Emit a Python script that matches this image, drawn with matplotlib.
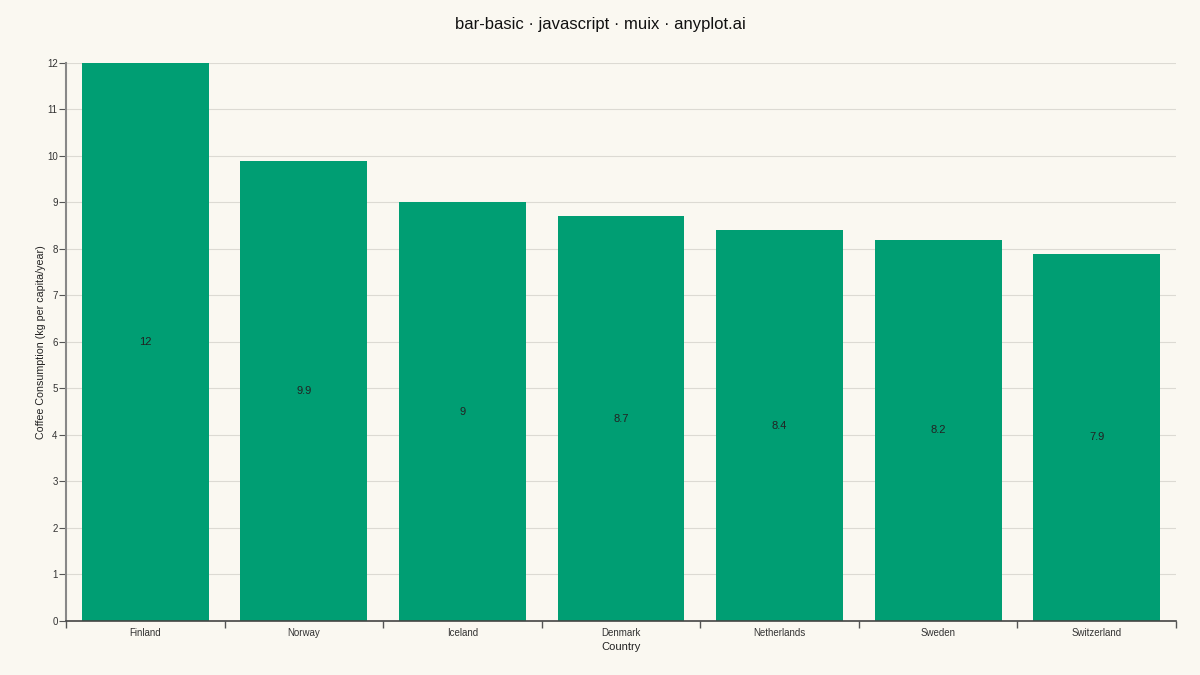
import matplotlib.pyplot as plt
from matplotlib.ticker import FixedLocator

countries = ["Finland", "Norway", "Iceland", "Denmark", "Netherlands", "Sweden", "Switzerland"]
consumption = [12, 9.9, 9, 8.7, 8.4, 8.2, 7.9]
y_ticks = list(range(0, 13))

bg = "#FAF8F1"
bar_color = "#009E73"

plt.rcParams["font.family"] = ["Liberation Sans", "DejaVu Sans"]

fig = plt.figure(figsize=(12, 6.75), dpi=100, facecolor=bg)
ax = fig.add_axes([0.055, 0.08, 0.925, 0.8267])
ax.set_facecolor(bg)

x = range(len(countries))
bars = ax.bar(x, consumption, width=0.8, color=bar_color, zorder=2)
for b, v in zip(bars, consumption):
    ax.text(b.get_x() + b.get_width() / 2, v / 2, f"{v:g}", ha="center", va="center",
            fontsize=8, color="#222222", zorder=3)

ax.set_xlim(-0.5, len(countries) - 0.5)
ax.set_ylim(0, 12)
ax.set_yticks(y_ticks)
ax.yaxis.grid(True, color="#dcdad3", linewidth=0.8, zorder=0)

# category labels centred, ticks at band edges
ax.set_xticks(list(x))
ax.set_xticklabels(countries, fontsize=7, color="#333333")
ax.tick_params(axis="x", length=0, pad=5)
ax.xaxis.set_minor_locator(FixedLocator([i - 0.5 for i in range(len(countries) + 1)]))
ax.tick_params(axis="x", which="minor", length=5, color="#555555", width=1)
ax.tick_params(axis="y", labelsize=7, labelcolor="#333333", length=5, color="#555555", pad=1)

for s in ["top", "right"]:
    ax.spines[s].set_visible(False)
ax.spines["left"].set_color("#888888")
ax.spines["left"].set_linewidth(1.5)
ax.spines["bottom"].set_color("#444444")
ax.spines["bottom"].set_linewidth(1.2)

ax.set_xlabel("Country", fontsize=8, color="#222222", labelpad=3)
ax.set_ylabel("Coffee Consumption (kg per capita/year)", fontsize=7.7, color="#222222", labelpad=1)
fig.text(0.5, 0.964, "bar-basic · javascript · muix · anyplot.ai", fontsize=12,
         ha="center", va="center", color="#111111")

fig.savefig("out.png", dpi=100, facecolor=bg)
